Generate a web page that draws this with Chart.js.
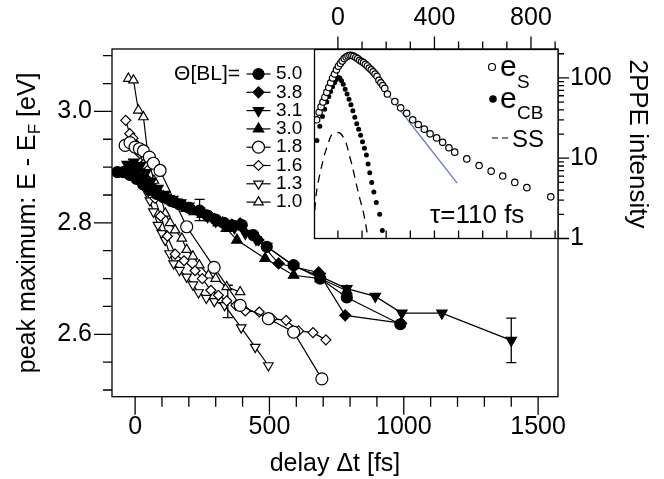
<!DOCTYPE html>
<html>
<head>
<meta charset="utf-8">
<script src="https://cdn.jsdelivr.net/npm/chart.js@4.4.1/dist/chart.umd.min.js"></script>
<style>
  html, body { margin: 0; padding: 0; background: #fff; }
  #wrap { position: relative; width: 664px; height: 479px; }
  #wrap canvas { position: absolute; left: 0; top: 0; }
</style>
</head>
<body>
<div id="wrap">
  <canvas id="main" width="664" height="479"></canvas>
  <canvas id="inset" width="664" height="479"></canvas>
</div>
<script>
// ---- main panel: peak maximum vs delay, one pair of arrays per coverage ----
const coverages = ['5.0', '3.8', '3.1', '3.0', '1.8', '1.6', '1.3', '1.0'];

const delay50 = [-66, -44, -20, 5, 30, 55, 80, 105, 135, 165, 200, 240, 270, 300, 330, 365, 397, 440, 490, 590, 689, 788, 987];
const peak50  = [2.891, 2.891, 2.886, 2.879, 2.869, 2.859, 2.852, 2.846, 2.839, 2.833, 2.827, 2.822, 2.813, 2.806, 2.800, 2.795, 2.796, 2.778, 2.757, 2.724, 2.700, 2.666, 2.618];

const delay38 = [-40, -15, 10, 35, 60, 85, 115, 145, 175, 205, 235, 265, 295, 325, 360, 391, 459, 534, 683, 782, 990];
const peak38  = [2.893, 2.887, 2.879, 2.871, 2.863, 2.854, 2.846, 2.839, 2.833, 2.827, 2.821, 2.814, 2.807, 2.801, 2.797, 2.799, 2.769, 2.727, 2.711, 2.634, 2.620];

const delay31 = [-30, -5, 20, 40, 60, 85, 110, 140, 170, 200, 240, 270, 300, 330, 370, 410, 450, 490, 590, 689, 788, 894, 993, 1142, 1400];
const peak31  = [2.905, 2.909, 2.903, 2.890, 2.875, 2.862, 2.851, 2.842, 2.836, 2.830, 2.821, 2.811, 2.803, 2.799, 2.791, 2.781, 2.770, 2.758, 2.722, 2.704, 2.682, 2.668, 2.638, 2.638, 2.589];

const delay30 = [-20, 5, 30, 55, 80, 105, 130, 160, 190, 220, 250, 280, 310, 340, 379, 484, 590, 689, 788];
const peak30  = [2.900, 2.894, 2.881, 2.868, 2.856, 2.847, 2.840, 2.833, 2.826, 2.820, 2.815, 2.809, 2.800, 2.790, 2.769, 2.736, 2.706, 2.700, 2.678];

const delay18 = [-37, -19, 0, 16, 31, 53, 68, 93, 192, 294, 391, 496, 590, 695];
const peak18  = [2.939, 2.944, 2.936, 2.933, 2.929, 2.918, 2.907, 2.894, 2.793, 2.720, 2.652, 2.628, 2.604, 2.520];

const delay16 = [-35, -20, -8, 5, 18, 31, 50, 74, 95, 120, 149, 182, 223, 250, 282, 310, 341, 375, 410, 462, 509, 562, 608, 662, 710];
const peak16  = [2.984, 2.960, 2.952, 2.940, 2.924, 2.905, 2.876, 2.844, 2.812, 2.776, 2.744, 2.732, 2.714, 2.700, 2.679, 2.670, 2.660, 2.652, 2.642, 2.640, 2.628, 2.625, 2.606, 2.603, 2.590];

const delay13 = [-15, 5, 25, 43, 55, 68, 85, 100, 112, 128, 143, 165, 192, 215, 236, 265, 295, 333, 395, 447, 496];
const peak13  = [2.905, 2.898, 2.880, 2.856, 2.840, 2.820, 2.796, 2.781, 2.769, 2.745, 2.727, 2.715, 2.703, 2.689, 2.675, 2.665, 2.659, 2.652, 2.612, 2.577, 2.544];

const delay10 = [-25, -6, 12, 31, 50, 70, 93, 112, 130, 149, 174, 192, 215, 239, 273, 300, 341, 391];
const peak10  = [3.059, 3.056, 3.002, 2.990, 2.912, 2.876, 2.853, 2.817, 2.800, 2.787, 2.772, 2.752, 2.740, 2.724, 2.706, 2.700, 2.685, 2.676];

// error bars (delay, energy, half width)
const errDelay = [240, 345, 1400];
const errPeak  = [2.823, 2.659, 2.589];
const errSize  = [0.019, 0.029, 0.040];

const mainXLabels = [0, 500, 1000, 1500];
const mainYLabels = [2.6, 2.8, 3.0];

// ---- inset: 2PPE intensity vs delay ----
const esDelay = [-88, -78, -70, -62, -54, -46, -38, -30, -22, -14, -6, 2, 10, 18, 26, 34, 42, 50, 58, 66, 74, 82, 90, 98, 106, 114, 122, 130, 138, 146, 154, 162, 170, 178, 186, 194, 205, 236, 260, 285, 310, 333, 358, 382, 409, 434, 460, 484, 534, 585, 635, 683, 733, 783, 882];
const esCounts = [30.1, 37.4, 43.6, 50.1, 57.5, 66.1, 75.9, 87.1, 100, 112, 126, 140, 151, 162, 174, 182, 188, 191, 190, 186, 180, 174, 166, 160, 155, 148, 141, 133, 126, 119, 112, 105, 93.3, 87.1, 80.4, 74.1, 63.1, 50.8, 42.4, 36.3, 30.1, 26.3, 23.0, 20.1, 17.9, 15.8, 13.5, 11.9, 9.8, 8.1, 6.9, 6.0, 5.0, 4.3, 3.3];

const ecbDelay = [-87, -75, -64, -55, -46, -38, -30, -22, -14, -6, 2, 8, 15, 22, 30, 38, 46, 54, 62, 70, 78, 86, 94, 102, 110, 118, 125, 132, 140, 149, 159, 173, 184];
const ecbCounts = [16.6, 25.1, 33.1, 40.7, 50.1, 58.9, 67.6, 77.6, 87.1, 95.5, 101, 100, 92.3, 83.2, 72.4, 63.1, 54.3, 46.2, 38.9, 32.4, 26.9, 22.9, 19.3, 16.0, 13.3, 11.0, 8.5, 6.6, 5.0, 3.8, 2.8, 2.0, 1.26];

const ssDelay = [-96, -90, -83, -75, -65, -55, -41, -28, -15, -3, 10, 21, 35, 48, 59, 76, 90, 104, 115, 124];
const ssCounts = [2.24, 3.55, 4.8, 6.3, 8.5, 11.2, 15.1, 19.1, 20.4, 20.9, 20.4, 18.6, 15.1, 10.7, 8.1, 4.8, 3.2, 2.24, 1.51, 1.05];

const fitDelay = [35, 50, 65, 80, 100, 120, 140, 160, 180, 200, 494];
const fitCounts = [180, 184, 180, 172, 153, 135, 115, 95.5, 79.4, 66.1, 4.89];

const insetXLabels = [0, 400, 800];
const insetYLabels = [1, 10, 100];

// ---------------------------------------------------------------
const FONT = "'Liberation Sans', Arial, Helvetica, sans-serif";
Chart.defaults.font.family = FONT;
Chart.defaults.color = '#000';

function zip(xs, ys) {
  return xs.map((v, i) => ({ x: v, y: ys[i] }));
}

const mainDelays = [delay50, delay38, delay31, delay30, delay18, delay16, delay13, delay10];
const mainPeaks  = [peak50, peak38, peak31, peak30, peak18, peak16, peak13, peak10];

// marker look for each coverage
const markerStyle = [
  { style: 'circle',   rot: 0,   fill: '#000', r: 5.5 },
  { style: 'rectRot',  rot: 0,   fill: '#000', r: 5.5 },
  { style: 'triangle', rot: 180, fill: '#000', r: 6 },
  { style: 'triangle', rot: 0,   fill: '#000', r: 6 },
  { style: 'circle',   rot: 0,   fill: '#fff', r: 6 },
  { style: 'rectRot',  rot: 0,   fill: '#fff', r: 5 },
  { style: 'triangle', rot: 180, fill: '#fff', r: 5.5 },
  { style: 'triangle', rot: 0,   fill: '#fff', r: 5.5 }
];

function drawMarker(ctx, m, x, y) {
  ctx.fillStyle = m.fill;
  ctx.strokeStyle = '#000';
  ctx.lineWidth = 1.2;
  if (Chart.helpers && Chart.helpers.drawPoint) {
    Chart.helpers.drawPoint(ctx, { pointStyle: m.style, rotation: m.rot, radius: m.r, borderWidth: 1.2 }, x, y);
  } else {
    ctx.beginPath();
    ctx.arc(x, y, m.r, 0, Math.PI * 2);
    ctx.fill();
    ctx.stroke();
  }
}

const mainDecor = {
  id: 'mainDecor',
  beforeDatasetsDraw(chart) {
    const { ctx, scales: { x, y } } = chart;
    ctx.save();
    ctx.strokeStyle = '#000';
    ctx.lineWidth = 1.3;
    errDelay.forEach((t, i) => {
      const px = x.getPixelForValue(t);
      const top = y.getPixelForValue(errPeak[i] + errSize[i]);
      const bot = y.getPixelForValue(errPeak[i] - errSize[i]);
      ctx.beginPath();
      ctx.moveTo(px, top); ctx.lineTo(px, bot);
      ctx.moveTo(px - 5, top); ctx.lineTo(px + 5, top);
      ctx.moveTo(px - 5, bot); ctx.lineTo(px + 5, bot);
      ctx.stroke();
    });
    ctx.restore();
  },
  afterDraw(chart) {
    const { ctx, chartArea: a, scales: { x, y } } = chart;
    ctx.save();
    ctx.strokeStyle = '#000';
    ctx.lineWidth = 1.3;
    ctx.strokeRect(a.left, a.top, a.right - a.left, a.bottom - a.top);

    // ticks
    ctx.beginPath();
    for (let v = 0; v <= 1500; v += 100) {
      const px = x.getPixelForValue(v);
      const len = v % 500 === 0 ? 18 : 10;
      ctx.moveTo(px, a.bottom); ctx.lineTo(px, a.bottom + len);
    }
    for (let k = 0; k <= 12; k++) {
      const py = y.getPixelForValue(2.5 + k * 0.05);
      const len = k % 4 === 2 ? 18 : 9;
      ctx.moveTo(a.left, py); ctx.lineTo(a.left - len, py);
    }
    ctx.stroke();

    // legend
    ctx.fillStyle = '#000';
    ctx.textBaseline = 'middle';
    ctx.textAlign = 'right';
    ctx.font = '21px ' + FONT;
    ctx.fillText('Θ[BL]=', 240, 74);
    ctx.textAlign = 'left';
    ctx.font = '19px ' + FONT;
    coverages.forEach((c, i) => {
      const yy = 74 + i * 18.3;
      ctx.strokeStyle = '#000';
      ctx.lineWidth = 1.2;
      ctx.beginPath();
      ctx.moveTo(246.5, yy); ctx.lineTo(270.5, yy);
      ctx.stroke();
      drawMarker(ctx, markerStyle[i], 258.5, yy);
      ctx.fillStyle = '#000';
      ctx.fillText(c, 276, yy);
    });

    // y axis title with subscript
    ctx.save();
    ctx.translate(26, (a.top + a.bottom) / 2);
    ctx.rotate(-Math.PI / 2);
    const big = '25px ' + FONT, small = '17px ' + FONT;
    const p1 = 'peak maximum: E - E', p2 = 'F', p3 = ' [eV]';
    ctx.font = big; const w1 = ctx.measureText(p1).width, w3 = ctx.measureText(p3).width;
    ctx.font = small; const w2 = ctx.measureText(p2).width;
    let sx = -(w1 + w2 + w3) / 2;
    ctx.textAlign = 'left';
    ctx.textBaseline = 'alphabetic';
    ctx.font = big; ctx.fillText(p1, sx, 9); sx += w1;
    ctx.font = small; ctx.fillText(p2, sx, 14); sx += w2;
    ctx.font = big; ctx.fillText(p3, sx, 9);
    ctx.restore();

    ctx.restore();
  }
};

new Chart(document.getElementById('main'), {
  type: 'line',
  data: {
    datasets: coverages.map((c, i) => ({
      label: c,
      data: zip(mainDelays[i], mainPeaks[i]),
      borderColor: '#000',
      borderWidth: 1.2,
      tension: 0,
      pointStyle: markerStyle[i].style,
      pointRotation: markerStyle[i].rot,
      pointRadius: markerStyle[i].r,
      pointBackgroundColor: markerStyle[i].fill,
      pointBorderColor: '#000',
      pointBorderWidth: 1.2
    }))
  },
  options: {
    responsive: false,
    animation: false,
    events: [],
    layout: { padding: { top: 49, right: 106, left: 0, bottom: 0 } },
    plugins: { legend: { display: false }, tooltip: { enabled: false } },
    scales: {
      x: {
        type: 'linear', position: 'bottom', min: -86, max: 1574,
        grid: { display: false, drawTicks: false }, border: { display: false },
        afterBuildTicks: s => { s.ticks = mainXLabels.map(v => ({ value: v })); },
        afterFit: s => { s.height = 82.3; },
        ticks: { font: { size: 25 }, padding: 15, maxRotation: 0, autoSkip: false, callback: v => String(v) },
        title: { display: true, text: 'delay Δt [fs]', font: { size: 25 }, padding: { top: 0, bottom: 0 } }
      },
      y: {
        type: 'linear', position: 'left', min: 2.488, max: 3.112,
        grid: { display: false, drawTicks: false }, border: { display: false },
        afterBuildTicks: s => { s.ticks = mainYLabels.map(v => ({ value: v })); },
        afterFit: s => { s.width = 112; },
        ticks: { font: { size: 25 }, padding: 20, autoSkip: false, callback: v => v.toFixed(1) }
      }
    }
  },
  plugins: [mainDecor]
});

// ---- inset ----
const insetDecor = {
  id: 'insetDecor',
  beforeDraw(chart) {
    const { ctx, chartArea: a } = chart;
    ctx.save();
    ctx.fillStyle = '#fff';
    ctx.fillRect(a.left, a.top, a.right - a.left, a.bottom - a.top);
    ctx.restore();
  },
  afterDraw(chart) {
    const { ctx, chartArea: a, scales: { x, y } } = chart;
    ctx.save();
    ctx.strokeStyle = '#000';
    ctx.lineWidth = 1.3;
    ctx.strokeRect(a.left, a.top, a.right - a.left, a.bottom - a.top);
    ctx.beginPath();
    for (let v = 0; v <= 900; v += 100) {
      const px = x.getPixelForValue(v);
      const len = v % 400 === 0 ? 13 : 8;
      ctx.moveTo(px, a.top); ctx.lineTo(px, a.top - len);
      ctx.moveTo(px, a.bottom); ctx.lineTo(px, a.bottom - 8);
    }
    [1, 10, 100].forEach(d => {
      for (let m = 1; m <= 9; m++) {
        const v = d * m;
        if (v > y.max) break;
        const py = y.getPixelForValue(v);
        const len = m === 1 ? 11 : 6;
        ctx.moveTo(a.right, py); ctx.lineTo(a.right + len, py);
      }
    });
    ctx.stroke();

    // legend
    ctx.lineWidth = 1.2;
    ctx.beginPath(); ctx.arc(492, 67, 3.5, 0, Math.PI * 2);
    ctx.fillStyle = '#fff'; ctx.fill(); ctx.stroke();
    ctx.beginPath(); ctx.arc(493, 99, 3.8, 0, Math.PI * 2);
    ctx.fillStyle = '#000'; ctx.fill();
    ctx.textAlign = 'left';
    ctx.textBaseline = 'alphabetic';
    ctx.font = '30px ' + FONT;
    ctx.fillText('e', 500, 76);
    ctx.fillText('e', 500, 108);
    ctx.font = '19px ' + FONT;
    ctx.fillText('S', 517, 88);
    ctx.fillText('CB', 517, 119);
    ctx.setLineDash([6, 4]);
    ctx.beginPath(); ctx.moveTo(492, 138); ctx.lineTo(508, 138); ctx.stroke();
    ctx.setLineDash([]);
    ctx.font = '24px ' + FONT;
    ctx.fillText('SS', 512, 147);
    ctx.font = '26px ' + FONT;
    ctx.fillText('τ=110 fs', 430, 223);

    // right axis title
    ctx.save();
    ctx.translate(637, (a.top + a.bottom) / 2);
    ctx.rotate(Math.PI / 2);
    ctx.textAlign = 'center';
    ctx.textBaseline = 'middle';
    ctx.font = '26px ' + FONT;
    ctx.fillText('2PPE intensity', 0, 0);
    ctx.restore();
    ctx.restore();
  }
};

new Chart(document.getElementById('inset'), {
  type: 'line',
  data: {
    datasets: [
      { label: 'eS', data: zip(esDelay, esCounts), showLine: false, pointStyle: 'circle', pointRadius: 3.2,
        pointBackgroundColor: '#fff', pointBorderColor: '#000', pointBorderWidth: 1.2 },
      { label: 'eCB', data: zip(ecbDelay, ecbCounts), showLine: false, pointStyle: 'circle', pointRadius: 2.5,
        pointBackgroundColor: '#000', pointBorderColor: '#000', pointBorderWidth: 0 },
      { label: 'SS', data: zip(ssDelay, ssCounts), pointRadius: 0, borderColor: '#000', borderWidth: 1.3,
        borderDash: [8, 6], tension: 0.3 },
      { label: 'fit', data: zip(fitDelay, fitCounts), pointRadius: 0, borderColor: '#6f7cc2', borderWidth: 1.3,
        tension: 0.3 }
    ]
  },
  options: {
    responsive: false,
    animation: false,
    events: [],
    layout: { padding: { left: 314.5, top: 0, right: 0, bottom: 240.5 } },
    plugins: { legend: { display: false }, tooltip: { enabled: false } },
    scales: {
      x: {
        type: 'linear', position: 'top', min: -97, max: 912,
        grid: { display: false, drawTicks: false }, border: { display: false },
        afterBuildTicks: s => { s.ticks = insetXLabels.map(v => ({ value: v })); },
        afterFit: s => { s.height = 49.5; },
        ticks: { font: { size: 25 }, padding: 16, maxRotation: 0, autoSkip: false, callback: v => String(v) }
      },
      y: {
        type: 'logarithmic', position: 'right', min: 1, max: 226,
        grid: { display: false, drawTicks: false }, border: { display: false },
        afterBuildTicks: s => { s.ticks = insetYLabels.map(v => ({ value: v })); },
        afterFit: s => { s.width = 106; },
        ticks: { font: { size: 25 }, padding: 12, autoSkip: false, callback: v => String(v) }
      }
    }
  },
  plugins: [insetDecor]
});
</script>
</body>
</html>
